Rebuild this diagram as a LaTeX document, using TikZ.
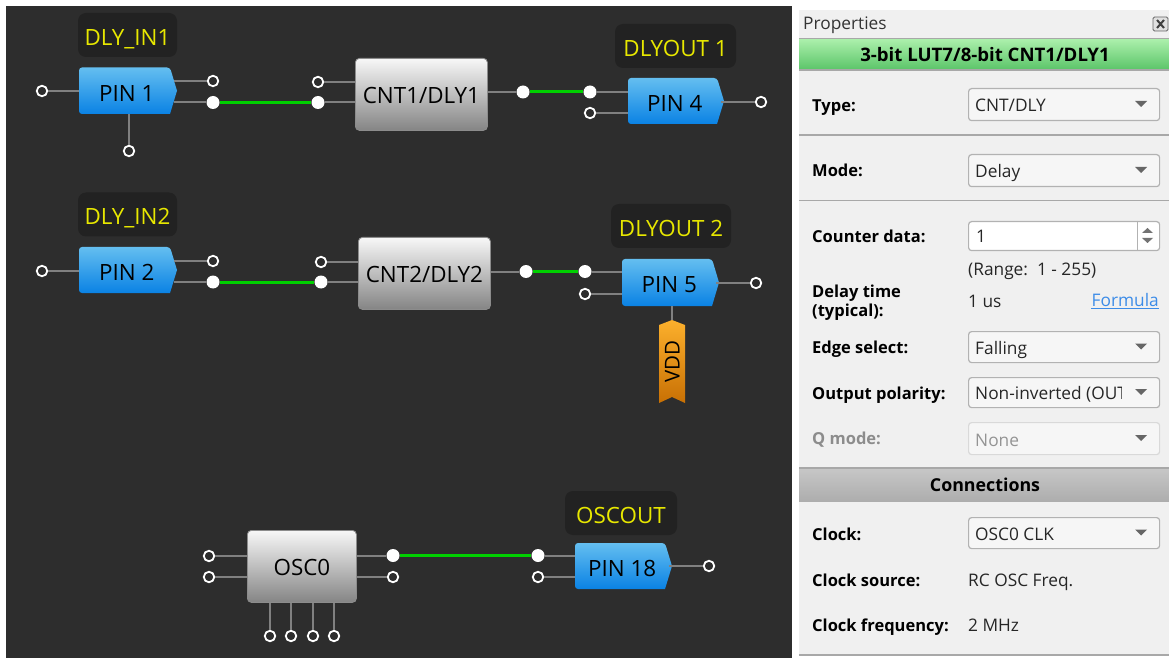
\documentclass[tikz,border=0pt]{standalone}
\usepackage{fontspec}
\setmainfont{Open Sans}
\newcommand{\dfont}{\fontsize{22.4}{26}\selectfont}
\newcommand{\pfont}{\fontsize{17.3}{20}\selectfont}
\newcommand{\bfont}{\fontsize{16.5}{19}\selectfont\bfseries}
\newcommand{\hfont}{\fontsize{17.8}{20}\selectfont\bfseries}
\definecolor{canvas}{HTML}{2D2D2D}
\definecolor{tagbg}{HTML}{222222}
\definecolor{tagfg}{HTML}{E8E800}
\definecolor{wiregrey}{HTML}{808080}
\definecolor{netgreen}{HTML}{00D000}
\definecolor{panelbg}{HTML}{F0F0F0}
\definecolor{combobg}{HTML}{F6F6F6}
\definecolor{rulegrey}{HTML}{A8A8A8}
\definecolor{lnk}{HTML}{3C8CE8}
\definecolor{pintop}{HTML}{64BEF0}
\definecolor{pinbot}{HTML}{0A82E4}
\tikzset{
  hollow/.style={circle,draw=white,fill=canvas,line width=1.8pt,inner sep=0pt,minimum size=10.5pt},
  solid/.style={circle,fill=white,inner sep=0pt,minimum size=13pt},
  wire/.style={draw=wiregrey,line width=2pt},
  net/.style={draw=netgreen,line width=3pt},
  tagbox/.style={fill=tagbg,rounded corners=8pt,text=tagfg,font=\dfont,inner sep=0pt,text height=20.5pt,text depth=0pt},
  blocktext/.style={font=\dfont,text=black,inner sep=0pt,text height=20.5pt,text depth=0pt},
  lbl/.style={anchor=base west,font=\bfont,text=black,inner sep=0pt},
  val/.style={anchor=base west,font=\pfont,text=black!85,inner sep=0pt},
  rulep/.style={draw=rulegrey,line width=1.5pt},
}
% name, x0, y0, x1, y1, text
\newcommand{\pinblock}[6]{%
  \shade[top color=pintop,bottom color=pinbot,rounded corners=3pt]
    (#2,#3) -- ({#4-7},#3) [sharp corners] -- (#4,{(#3+#5)/2}) -- ({#4-7},#5) [rounded corners=3pt] -- (#2,#5) -- cycle;
  \node[blocktext,minimum width={#4-#2-3},minimum height={#5-#3},anchor=north west] (#1) at (#2,#3) {#6};
}
\newcommand{\greybox}[6]{%
  \node[font=\dfont,text=black,inner sep=0pt,rounded corners=4pt,draw=black!45,line width=.8pt,
        top color=white!97!black,bottom color=black!48!white,text height=18.5pt,text depth=0pt,
        minimum width={#4-#2},minimum height={#5-#3},anchor=north west] (#1) at (#2,#3) {#6};
}
% name, y0, y1, text, framecolour, textcolour
\newcommand{\combo}[6]{%
  \node[fill=combobg,draw=#5,rounded corners=3pt,line width=1.2pt,inner sep=0pt,
        minimum width=191pt,minimum height={#3-#2},anchor=north west] (#1) at (968,#2) {};
  \begin{scope}
    \clip (968,#2) rectangle (1121,#3);
    \node[val,text=#6] at (975,{#3-8}) {#4};
  \end{scope}
  \fill[black!60] (1135,{(#2+#3)/2-3}) -- (1147,{(#2+#3)/2-3}) -- (1141,{(#2+#3)/2+3}) -- cycle;
}
\begin{document}
\begin{tikzpicture}[x=1pt,y=-1pt]
\useasboundingbox (0,0) rectangle (1169,660);
\fill[white] (0,0) rectangle (1169,660);
\fill[canvas] (6,6) rectangle (792,658);

% ---- row 1
\node[tagbox,minimum width=99pt,minimum height=44pt] (tagA) at (127.5,35) {DLY\_IN1};
\node[tagbox,minimum width=121pt,minimum height=44pt] (tagB) at (675.5,46) {DLYOUT 1};
\pinblock{pinA}{79}{67.5}{177}{114}{PIN 1}
\greybox{cntA}{355}{58}{487}{130}{CNT1/DLY1}
\pinblock{pinD}{628}{78}{724}{124}{PIN 4}
\node[hollow] (a1) at (42,91) {};
\node[hollow] (a2) at (213,81) {};
\node[solid]  (a3) at (213,102.5) {};
\node[hollow] (a4) at (129,151) {};
\node[hollow] (b1) at (318,82) {};
\node[solid]  (b2) at (318,102.5) {};
\node[solid]  (b3) at (523,92) {};
\node[solid]  (d1) at (590,92) {};
\node[hollow] (d2) at (590,113) {};
\node[hollow] (d3) at (761,102) {};
\draw[wire] (a1) -- (pinA.west |- a1);
\draw[wire] (a2) -- (pinA.east |- a2);
\draw[wire] (a3) -- (pinA.east |- a3);
\draw[wire] (a4) -- (pinA.south -| a4);
\draw[wire] (b1) -- (cntA.west |- b1);
\draw[wire] (b2) -- (cntA.west |- b2);
\draw[wire] (b3) -- (cntA.east |- b3);
\draw[wire] (d1) -- (pinD.west |- d1);
\draw[wire] (d2) -- (pinD.west |- d2);
\draw[wire] (d3) -- (pinD.east |- d3);
\draw[net] (a3) -- (b2);
\draw[net] (b3) -- (d1);

% ---- row 2
\node[tagbox,minimum width=99pt,minimum height=44pt] (tagC) at (127.5,214.5) {DLY\_IN2};
\node[tagbox,minimum width=120pt,minimum height=44pt] (tagE) at (671,226) {DLYOUT 2};
\pinblock{pinB}{79}{247}{177}{293}{PIN 2}
\greybox{cntB}{358}{237}{490}{309}{CNT2/DLY2}
\pinblock{pinE}{622}{259}{719}{306}{PIN 5}
\node[hollow] (e1) at (42,271) {};
\node[hollow] (e2) at (213,261) {};
\node[solid]  (e3) at (213,282) {};
\node[hollow] (f1) at (321,262) {};
\node[solid]  (f2) at (321,282) {};
\node[solid]  (f3) at (526,271.5) {};
\node[solid]  (g1) at (585,271.5) {};
\node[hollow] (g2) at (585,294) {};
\node[hollow] (g3) at (756,283) {};
\shade[top color={rgb,255:red,252;green,176;blue,44},bottom color={rgb,255:red,200;green,112;blue,4}]
  (659,325) -- (672,320) -- (685,325) -- (685,403) -- (672,397) -- (659,403) -- cycle;
\node[blocktext,font=\fontsize{20.5}{24}\selectfont,text height=15pt,rotate=90,minimum width=83pt,minimum height=26pt] (vdd) at (672,361.5) {VDD};
\draw[wire] (e1) -- (pinB.west |- e1);
\draw[wire] (e2) -- (pinB.east |- e2);
\draw[wire] (e3) -- (pinB.east |- e3);
\draw[wire] (f1) -- (cntB.west |- f1);
\draw[wire] (f2) -- (cntB.west |- f2);
\draw[wire] (f3) -- (cntB.east |- f3);
\draw[wire] (g1) -- (pinE.west |- g1);
\draw[wire] (g2) -- (pinE.west |- g2);
\draw[wire] (g3) -- (pinE.east |- g3);
\draw[wire] (pinE.south -| vdd) -- (vdd.east);
\draw[net] (e3) -- (f2);
\draw[net] (f3) -- (g1);

% ---- row 3
\node[tagbox,minimum width=112pt,minimum height=44pt] (tagF) at (621,513) {OSCOUT};
\greybox{osc}{247}{530}{356}{602}{OSC0}
\pinblock{pinF}{575}{543}{672}{589}{PIN 18}
\node[hollow] (h1) at (209,556) {};
\node[hollow] (h2) at (209,577) {};
\node[solid]  (h3) at (393,555.5) {};
\node[hollow] (h4) at (393,577) {};
\node[hollow] (k1) at (270,636) {};
\node[hollow] (k2) at (291,636) {};
\node[hollow] (k3) at (313,636) {};
\node[hollow] (k4) at (334,636) {};
\node[solid]  (m1) at (538,555.5) {};
\node[hollow] (m2) at (538,577) {};
\node[hollow] (m3) at (709,566) {};
\draw[wire] (h1) -- (osc.west |- h1);
\draw[wire] (h2) -- (osc.west |- h2);
\draw[wire] (h3) -- (osc.east |- h3);
\draw[wire] (h4) -- (osc.east |- h4);
\foreach \k in {k1,k2,k3,k4} \draw[wire] (\k) -- (osc.south -| \k);
\draw[wire] (m1) -- (pinF.west |- m1);
\draw[wire] (m2) -- (pinF.west |- m2);
\draw[wire] (m3) -- (pinF.east |- m3);
\draw[net] (h3) -- (m1);

% ---- properties panel
\fill[panelbg] (799,10) rectangle (1169,656);
\node[anchor=base west,font=\pfont,text=black!80,inner sep=0pt] at (803,30) {Properties};
\draw[black!60,fill=black!12,rounded corners=1.5pt,line width=.8pt] (1153,17) rectangle (1168,31);
\draw[black!75,line width=2pt] (1157,20) -- (1164,28) (1164,20) -- (1157,28);
\shade[top color={rgb,255:red,172;green,240;blue,172},bottom color={rgb,255:red,90;green,196;blue,104}] (799,39) rectangle (1169,70);
\draw[rulep] (799,38.5) -- (1169,38.5) (799,70) -- (1169,70);
\node[anchor=base,font=\fontsize{18.6}{21}\selectfont\bfseries,text=black,inner sep=0pt] at (985,62) {3-bit LUT7/8-bit CNT1/DLY1};

\node[lbl] at (812,112) {Type:};
\combo{cbType}{88}{120}{CNT/DLY}{black!30}{black!85}
\draw[rulep] (799,135) -- (1169,135);
\node[lbl] at (812,177) {Mode:};
\combo{cbMode}{154}{186}{Delay}{black!30}{black!85}
\draw[rulep] (799,200.5) -- (1169,200.5);

\node[lbl] at (812,243) {Counter data:};
\node[fill=white,draw=black!30,rounded corners=3pt,line width=1.2pt,inner sep=0pt,minimum width=191pt,minimum height=29pt,anchor=north west] (cbCount) at (968,221) {};
\draw[black!30,line width=1pt] (1137,221) -- (1137,250);
\fill[black!55] (1142,233) -- (1153,233) -- (1147.5,228) -- cycle;
\fill[black!55] (1142,238) -- (1153,238) -- (1147.5,243) -- cycle;
\node[val] at (976,243) {1};
\node[val] at (968,275) {(Range:\ \ 1 - 255)};
\node[lbl] at (812,297) {Delay time};
\node[lbl] at (812,316) {(typical):};
\node[val] at (968,307) {1 us};
\node[anchor=base east,font=\pfont,text=lnk,inner sep=0pt] (formula) at (1159,306) {Formula};
\draw[lnk,line width=1pt] (formula.south west |- 0,308.5) -- (formula.south east |- 0,308.5);

\node[lbl] at (812,353) {Edge select:};
\combo{cbEdge}{331}{362}{Falling}{black!30}{black!85}
\node[lbl] at (812,399) {Output polarity:};
\combo{cbPol}{377}{407}{Non-inverted (OUT}{black!30}{black!85}
\node[lbl,text=black!45] at (812,444) {Q mode:};
\combo{cbQ}{422}{454}{None}{black!15}{black!42}

\shade[top color=black!22,bottom color=black!32] (799,468) rectangle (1169,501);
\draw[rulep] (799,468) -- (1169,468);
\node[anchor=base,font=\hfont,text=black,inner sep=0pt] at (985,491) {Connections};

\node[lbl] at (812,540) {Clock:};
\combo{cbClock}{517}{548}{OSC0 CLK}{black!30}{black!85}
\node[lbl] at (812,586) {Clock source:};
\node[val] at (968,586) {RC OSC Freq.};
\node[lbl] at (812,631) {Clock frequency:};
\node[val] at (968,631) {2 MHz};
\draw[rulep] (799,655) -- (1169,655);
\end{tikzpicture}
\end{document}
